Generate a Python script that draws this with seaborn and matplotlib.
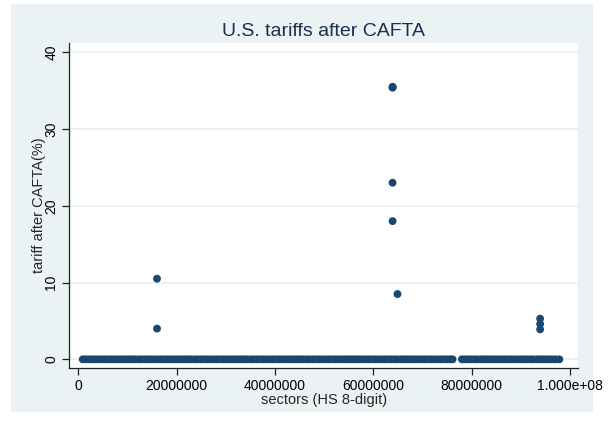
import numpy as np
import pandas as pd
import matplotlib
matplotlib.use("Agg")
import matplotlib.pyplot as plt
from matplotlib.patches import Rectangle
import seaborn as sns

# sector codes (HS 8-digit, in millions) with a zero tariff after CAFTA
ZERO_SECTORS_M = [
    0.9, 1.5, 2.1, 2.8, 3.4, 4.0, 4.7, 5.3, 5.9, 6.6, 7.2, 7.8, 8.5, 9.1, 9.7,
    10.4, 11.0, 11.6, 12.3, 12.9, 13.5, 14.2, 14.8, 15.4, 16.1, 16.7, 17.3, 18.0,
    18.6, 19.2, 19.9, 20.5, 21.1, 21.8, 22.4, 23.0, 23.7, 24.3, 24.9, 25.6, 26.2,
    26.8, 27.5, 28.1, 28.7, 29.4, 30.0, 30.6, 31.3, 31.9, 32.5, 33.2, 33.8, 34.4,
    35.1, 35.7, 36.3, 37.0, 37.6, 38.2, 38.9, 39.5, 40.1, 40.8, 41.4, 42.0, 42.7,
    43.3, 43.9, 44.6, 45.2, 45.8, 46.5, 47.1, 47.7, 48.4, 49.0, 49.6, 50.3, 50.9,
    51.5, 52.2, 52.8, 53.4, 54.1, 54.7, 55.3, 56.0, 56.6, 57.2, 57.9, 58.5, 59.1,
    59.8, 60.4, 61.0, 61.7, 62.3, 62.9, 63.6, 64.2, 64.8, 65.5, 66.1, 66.7, 67.4,
    68.0, 68.6, 69.3, 69.9, 70.5, 71.2, 71.8, 72.4, 73.1, 73.7, 74.3, 75.0, 75.6,
    76.1,
    78.0, 78.6, 79.2, 79.9, 80.5, 81.1, 81.8, 82.4, 83.0, 83.7, 84.3, 84.9, 85.6,
    86.2, 86.8, 87.5, 88.1, 88.7, 89.4, 90.0, 90.6, 91.3, 91.9, 92.5, 93.2, 93.8,
    94.4, 95.1, 95.7, 96.3, 97.0, 97.8,
]

# sectors that keep a positive tariff
POS_SECTORS_M = [16.0, 16.0, 63.9, 63.9, 63.9, 63.9, 63.9, 64.9, 93.9, 93.9, 93.9]
POS_TARIFFS = [10.5, 4.0, 35.4, 35.5, 35.4, 23.0, 18.0, 8.5, 5.3, 4.6, 3.9]

X_TICKS = [0, 20000000, 40000000, 60000000, 80000000, 100000000]
X_TICK_LABELS = ["0", "20000000", "40000000", "60000000", "80000000", "1.000e+08"]
Y_TICKS = [0, 10, 20, 30, 40]

BG = "#EAF2F3"
NAVY = "#1A476F"


def main():
    sns.set_style("white")
    plt.rcParams["font.family"] = ["Liberation Sans", "DejaVu Sans"]

    sectors = [v * 1e6 for v in ZERO_SECTORS_M] + [v * 1e6 for v in POS_SECTORS_M]
    tariffs = [0.0] * len(ZERO_SECTORS_M) + POS_TARIFFS
    df = pd.DataFrame({"sector": sectors, "tariff": tariffs})

    fig = plt.figure(figsize=(6.1, 4.26), dpi=100)
    fig.patch.set_facecolor("white")
    W, H = 610.0, 426.0
    bg = Rectangle((11 / W, 1 - 412 / H), 582 / W, 408 / H,
                   transform=fig.transFigure, facecolor=BG,
                   edgecolor="none", zorder=-10)
    fig.add_artist(bg)

    ax = fig.add_axes([69.3 / W, 1 - 368.3 / H, (578 - 69.3) / W, (368.3 - 43) / H])
    ax.set_facecolor("white")

    sns.scatterplot(data=df, x="sector", y="tariff", ax=ax, color=NAVY,
                    s=32, edgecolor="none", linewidth=0, zorder=3)

    ax.set_xlim(-1.83e6, 101.6e6)
    ax.set_ylim(-1.17, 41.2)
    ax.set_xticks(X_TICKS)
    ax.set_xticklabels(X_TICK_LABELS)
    ax.set_yticks(Y_TICKS)
    ax.set_yticklabels([str(t) for t in Y_TICKS], rotation=90, va="center")

    ax.grid(axis="y", color=BG, linewidth=1.5, zorder=1)
    ax.grid(axis="x", visible=False)
    ax.set_axisbelow(True)

    for side in ["top", "right"]:
        ax.spines[side].set_visible(False)
    for side in ["left", "bottom"]:
        ax.spines[side].set_color("#222222")
        ax.spines[side].set_linewidth(0.9)
    ax.tick_params(axis="both", which="major", direction="out", length=5,
                   width=0.9, color="#222222", labelsize=10, pad=3,
                   left=True, bottom=True, labelcolor="black")

    ax.set_title("U.S. tariffs after CAFTA", fontsize=14, color="#1E2D53", pad=5)
    ax.set_xlabel("sectors (HS 8-digit)", fontsize=10.5, labelpad=0)
    ax.set_ylabel("tariff after CAFTA(%)", fontsize=10.5, labelpad=-1)

    fig.savefig("out.png", dpi=100, facecolor=fig.get_facecolor())
    plt.close(fig)


if __name__ == "__main__":
    main()
